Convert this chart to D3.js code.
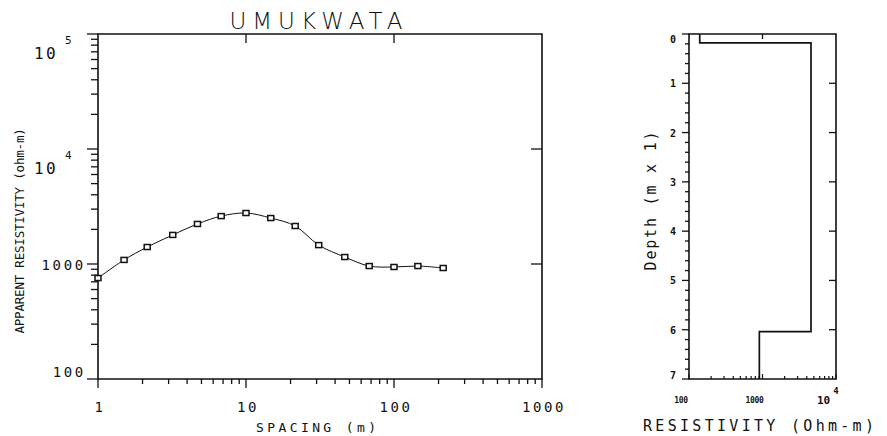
<!DOCTYPE html>
<html><head><meta charset="utf-8">
<script src="https://cdn.jsdelivr.net/npm/d3@7"></script>
<style>body{margin:0;background:#fff}</style>
</head><body><div id="chart"></div>
<script>
// sounding data
const title = "UMUKWATA";
const spacing = [1, 1.5, 2.15, 3.2, 4.7, 6.8, 10, 14.7, 21.5, 31, 46.5, 68, 100, 145, 215];
const apparentRes = [755, 1085, 1405, 1790, 2230, 2610, 2775, 2510, 2140, 1460, 1150, 960, 942, 960, 923];
const xTicks = [1, 10, 100, 1000];
const yTicks = [100, 1000, 1e4, 1e5];

// layered model
const layerRes = [140, 4570, 906];
const layerTop = [0, 0.18, 6.04];
const depthMax = 7;
const depthTicks = [0, 1, 2, 3, 4, 5, 6, 7];
const resTicks = [100, 1000, 1e4];

const W = 887, H = 436;
const mono = "'DejaVu Sans Mono', monospace";
const svg = d3.select("#chart").append("svg")
    .attr("width", W).attr("height", H)
    .style("font-family", mono);

const ink = "#111";

// ---------- left plot ----------
const x = d3.scaleLog().domain([1, 1000]).range([98, 542]);
const y = d3.scaleLog().domain([100, 1e5]).range([379, 34]);
const isMajor = v => Math.abs(Math.log10(v) - Math.round(Math.log10(v))) < 1e-9;

const g = svg.append("g").attr("stroke", ink).attr("fill", "none");

g.append("path")
    .attr("stroke-width", 1.6)
    .attr("d", `M${x.range()[0]},${y.range()[1]}H${x.range()[1]}V${y.range()[0]}H${x.range()[0]}Z`);

// left ticks (outside)
y.ticks().forEach(v => {
  const len = isMajor(v) ? 11 : 7;
  g.append("line").attr("stroke-width", 1.3)
    .attr("x1", x(1) - len).attr("x2", x(1)).attr("y1", y(v)).attr("y2", y(v));
});
// bottom ticks (outside)
x.ticks().forEach(v => {
  const len = isMajor(v) ? 9 : 5;
  g.append("line").attr("stroke-width", 1.3)
    .attr("x1", x(v)).attr("x2", x(v)).attr("y1", y(100)).attr("y2", y(100) + len);
});
// top & right inner ticks
[10, 100].forEach(v => g.append("line").attr("stroke-width", 1.3)
    .attr("x1", x(v)).attr("x2", x(v)).attr("y1", y(1e5)).attr("y2", y(1e5) + 9));
[1000, 1e4].forEach(v => g.append("line").attr("stroke-width", 1.3)
    .attr("x1", x(1000) - 11).attr("x2", x(1000)).attr("y1", y(v)).attr("y2", y(v)));

// curve + markers
const pts = spacing.map((s, i) => [s, apparentRes[i]]);
g.append("path")
    .attr("stroke-width", 1)
    .attr("d", d3.line().x(d => x(d[0])).y(d => y(d[1])).curve(d3.curveCatmullRom)(pts));
g.selectAll("rect.pt").data(pts).join("rect")
    .attr("class", "pt")
    .attr("x", d => x(d[0]) - 3).attr("y", d => y(d[1]) - 2.5)
    .attr("width", 6).attr("height", 5)
    .attr("fill", "#fff").attr("stroke-width", 1.5);

// tick labels
const lab = svg.append("g").attr("fill", ink).style("font-size", "14px").style("letter-spacing", "2.6px");
xTicks.forEach(v => {
  const s = String(v);
  lab.append("text")
    .attr("x", x(v) - (s.length * 11) / 2 + 2).attr("y", 412).text(s);
});

yTicks.forEach(v => {
  const e = Math.round(Math.log10(v));
  if (e >= 4) {
    const t = lab.append("text").attr("x", 34).attr("y", y(v) + 25)
      .style("font-size", "16px").style("letter-spacing", "2.4px");
    t.append("tspan").text("10");
    t.append("tspan").attr("x", 65).attr("dy", -15).style("font-size", "11px").text(e);
  } else {
    const s = String(v);
    lab.append("text").attr("x", 86 - s.length * 11.1)
      .attr("y", y(v) + (e === 2 ? -2 : 6)).text(s);
  }
});

svg.append("text")
    .attr("transform", `translate(24,231) rotate(-90)`)
    .attr("text-anchor", "middle").attr("fill", ink)
    .style("font-size", "12.5px").style("letter-spacing", "-0.2px")
    .text("APPARENT RESISTIVITY (ohm-m)");

svg.append("text")
    .attr("x", 256).attr("y", 432).attr("fill", ink)
    .style("font-size", "13px").style("letter-spacing", "3.4px")
    .text("SPACING (m)");

svg.append("text")
    .attr("x", 319).attr("y", 29).attr("text-anchor", "middle").attr("fill", ink)
    .style("font-family", "'DejaVu Sans', sans-serif").style("font-weight", 200)
    .style("font-size", "23px").style("letter-spacing", "6px")
    .text(title);

// ---------- right plot ----------
const rx = d3.scaleLog().domain([100, 1e4]).range([689, 836]);
const dy = d3.scaleLinear().domain([0, depthMax]).range([34, 379]);

const r = svg.append("g").attr("stroke", ink).attr("fill", "none");
r.append("path")
    .attr("stroke-width", 1.6)
    .attr("d", `M${rx.range()[0]},${dy.range()[0]}H${rx.range()[1]}V${dy.range()[1]}H${rx.range()[0]}Z`);

d3.range(0, depthMax + 0.001, 0.2).forEach(v => {
  const major = Math.abs(v - Math.round(v)) < 1e-6;
  const len = major ? 7 : 4;
  r.append("line").attr("stroke-width", 1.3)
    .attr("x1", rx(100) - len).attr("x2", rx(100)).attr("y1", dy(v)).attr("y2", dy(v));
});
depthTicks.filter(v => v > 0 && v < depthMax).forEach(v => r.append("line").attr("stroke-width", 1.3)
    .attr("x1", rx(1e4) - 7).attr("x2", rx(1e4)).attr("y1", dy(v)).attr("y2", dy(v)));
r.append("line").attr("stroke-width", 1.3)
    .attr("x1", rx(1000)).attr("x2", rx(1000)).attr("y1", dy(0)).attr("y2", dy(0) + 5);
rx.ticks().forEach(v => {
  const len = isMajor(v) ? 5 : 3;
  r.append("line").attr("stroke-width", 1.2)
    .attr("x1", rx(v)).attr("x2", rx(v)).attr("y1", dy(depthMax)).attr("y2", dy(depthMax) - len);
});

// model steps
const steps = [];
layerRes.forEach((rho, i) => {
  const bottom = i + 1 < layerTop.length ? layerTop[i + 1] : depthMax;
  steps.push([rho, layerTop[i]], [rho, bottom]);
});
r.append("path")
    .attr("stroke-width", 1.7)
    .attr("d", d3.line().x(d => rx(d[0])).y(d => dy(d[1]))(steps));

const rl = svg.append("g").attr("fill", ink).style("font-weight", "bold");
depthTicks.forEach(v => rl.append("text")
    .attr("x", 673).attr("y", dy(v) + 4 + (v === 0 ? 5 : v === depthMax ? -4 : 0))
    .attr("text-anchor", "middle").style("font-size", "10px").text(v));
resTicks.forEach(v => {
  const e = Math.round(Math.log10(v));
  if (e >= 4) {
    const t = rl.append("text").attr("x", rx(v) - 19).attr("y", 404).style("font-size", "11px");
    t.append("tspan").text("10");
    t.append("tspan").attr("dx", 3).attr("dy", -10).style("font-size", "9px").text(e);
  } else {
    rl.append("text").attr("x", rx(v) - 8).attr("y", 403).attr("text-anchor", "middle")
      .style("font-size", "8px").style("letter-spacing", "-0.3px").text(v);
  }
});

svg.append("text")
    .attr("transform", `translate(656,200) rotate(-90)`)
    .attr("text-anchor", "middle").attr("fill", ink)
    .style("font-size", "15px").style("letter-spacing", "1.8px")
    .text("Depth (m x 1)");

svg.append("text")
    .attr("x", 643).attr("y", 431).attr("fill", ink)
    .style("font-size", "15px").style("letter-spacing", "3.3px")
    .text("RESISTIVITY (Ohm-m)");
</script>
</body></html>
